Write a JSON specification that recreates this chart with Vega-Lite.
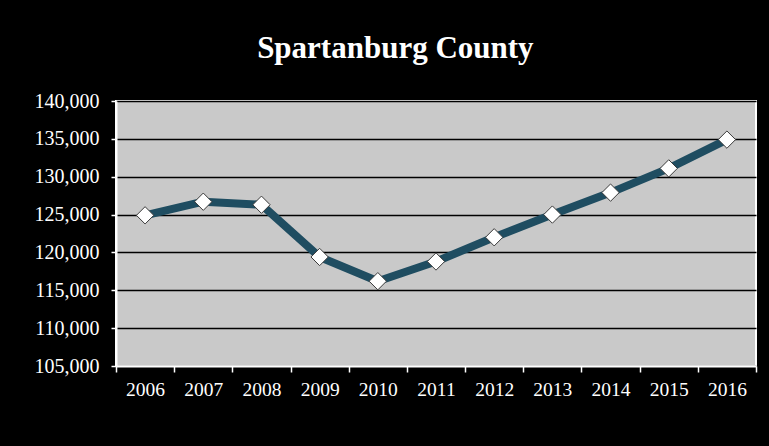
{
  "$schema": "https://vega.github.io/schema/vega-lite/v6.json",
  "width": 640,
  "height": 265,
  "autosize": {"type": "none"},
  "padding": {"left": 116, "top": 101, "right": 13, "bottom": 80},
  "background": "#000000",
  "title": {
    "text": "Spartanburg County",
    "font": "Liberation Serif",
    "fontSize": 31,
    "fontWeight": "bold",
    "color": "#ffffff",
    "anchor": "middle",
    "frame": "bounds",
    "offset": 26
  },
  "config": {
    "view": {"fill": "#c9c9c9", "stroke": "#ffffff", "strokeWidth": 2}
  },
  "data": {
    "values": [
      {"year": "2006", "population": 124900},
      {"year": "2007", "population": 126700},
      {"year": "2008", "population": 126300},
      {"year": "2009", "population": 119400},
      {"year": "2010", "population": 116200},
      {"year": "2011", "population": 118800},
      {"year": "2012", "population": 122000},
      {"year": "2013", "population": 125000},
      {"year": "2014", "population": 127900},
      {"year": "2015", "population": 131100},
      {"year": "2016", "population": 134900}
    ]
  },
  "encoding": {
    "x": {
      "field": "year",
      "type": "ordinal",
      "scale": {"type": "band", "paddingInner": 0, "paddingOuter": 0},
      "axis": {
        "title": null,
        "labelAngle": 0,
        "labelFont": "Liberation Serif",
        "labelFontSize": 19.5,
        "labelColor": "#ffffff",
        "labelPadding": 8,
        "tickBand": "extent",
        "tickColor": "#ffffff",
        "tickSize": 6,
        "tickWidth": 1.5,
        "domainColor": "#ffffff",
        "domainWidth": 2,
        "grid": false
      }
    },
    "y": {
      "field": "population",
      "type": "quantitative",
      "scale": {"domain": [105000, 140000], "nice": false, "zero": false},
      "axis": {
        "title": null,
        "values": [105000, 110000, 115000, 120000, 125000, 130000, 135000, 140000],
        "format": ",d",
        "labelFont": "Liberation Serif",
        "labelFontSize": 20,
        "labelColor": "#ffffff",
        "labelPadding": 12,
        "tickColor": "#ffffff",
        "tickSize": 5,
        "tickWidth": 1.5,
        "domainColor": "#ffffff",
        "domainWidth": 2,
        "grid": true,
        "gridColor": "#000000",
        "gridWidth": 1.5,
        "gridOpacity": 1
      }
    }
  },
  "layer": [
    {
      "mark": {"type": "line", "color": "#1f4d61", "strokeWidth": 8, "strokeJoin": "round"}
    },
    {
      "mark": {"type": "point", "shape": "diamond", "filled": true, "fill": "#ffffff", "stroke": "#3a3a3a", "strokeWidth": 1, "size": 300, "opacity": 1}
    }
  ]
}
